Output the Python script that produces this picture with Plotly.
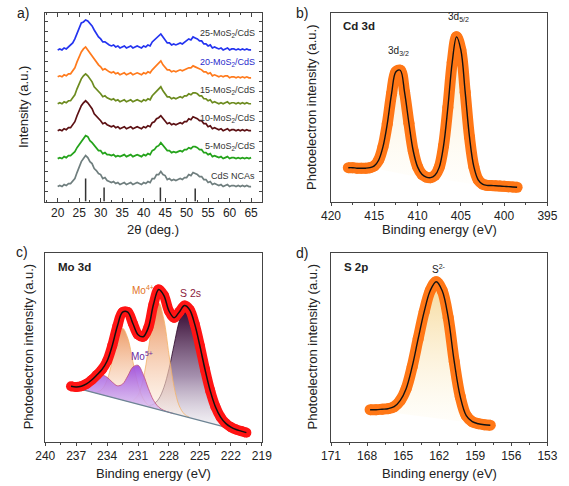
import plotly.graph_objects as go

# ---------------- panel a : XRD ----------------
TWO_THETA = [20 + 0.5 * i for i in range(91)]

XRD_CDS = [15,16,15,17,16,18,18,21,23,29,
           34,40,43,46,44,40,38,33,31,28,
           27,23,24,21,20,19,20,18,19,17,
           18,19,17,18,19,17,18,19,18,17,
           19,18,20,19,23,23,27,27,30,27,
           26,22,23,21,22,21,22,23,22,24,
           24,27,26,29,28,27,25,25,22,22,
           19,20,17,18,17,16,17,15,16,17,
           15,16,16,15,16,15,16,15,16,15,
           15]
XRD_5 = [43,44,43,45,44,46,46,48,50,54,
         57,61,64,66,65,61,59,56,53,51,
         51,48,49,47,47,46,47,45,46,45,
         46,47,45,46,47,45,46,47,46,45,
         47,46,48,47,51,52,55,56,59,56,
         54,51,51,49,50,49,50,51,50,52,
         52,54,53,55,55,54,52,52,49,49,
         47,48,45,46,45,44,45,43,44,45,
         43,44,44,43,44,43,44,43,44,43,
         44]
XRD_10 = [71,72,71,73,72,74,74,77,80,86,
          91,96,99,101,99,96,93,88,86,83,
          81,78,79,77,76,75,76,74,75,73,
          74,75,73,74,75,73,74,75,74,73,
          75,74,76,75,79,80,83,84,86,83,
          81,78,79,77,78,77,78,79,78,80,
          80,83,82,85,84,83,81,81,78,78,
          75,76,73,74,73,72,73,71,72,73,
          71,72,72,71,72,71,72,71,72,71,
          71]
XRD_15 = [98,99,98,100,99,101,101,104,107,113,
          118,123,126,128,126,123,120,115,113,110,
          108,105,106,104,103,102,103,101,102,100,
          101,102,100,101,102,100,101,102,101,100,
          102,101,103,102,106,108,111,112,115,111,
          108,105,105,103,104,103,104,105,104,106,
          106,108,107,109,109,108,106,106,103,103,
          101,102,99,100,99,98,99,98,99,100,
          98,99,99,98,99,98,99,98,99,98,
          98]
XRD_20 = [125,126,125,127,126,128,128,131,134,140,
          145,150,153,155,152,149,146,142,139,137,
          135,132,133,131,130,129,130,128,129,127,
          128,129,127,128,129,127,128,129,128,127,
          129,128,130,129,132,134,137,138,141,137,
          135,132,132,130,131,130,131,132,131,132,
          133,134,134,136,135,134,133,132,130,130,
          128,129,126,127,126,125,126,125,126,126,
          124,125,125,124,125,124,125,124,125,124,
          124]
XRD_25 = [152,153,152,154,153,155,156,159,163,169,
          175,179,180,182,181,179,176,172,168,165,
          163,160,160,158,157,156,157,155,156,154,
          155,156,154,155,156,154,155,156,155,154,
          156,155,157,156,160,162,165,166,168,165,
          162,159,159,157,158,157,158,159,158,160,
          161,163,162,165,164,163,161,161,158,158,
          156,157,154,155,154,153,154,152,153,154,
          152,153,153,152,153,152,153,152,153,152,
          152]
XRD_NAMES = ["CdS NCAs", "5-MoS<sub>2</sub>/CdS", "10-MoS<sub>2</sub>/CdS",
             "15-MoS<sub>2</sub>/CdS", "20-MoS<sub>2</sub>/CdS", "25-MoS<sub>2</sub>/CdS"]
STICK_POS = [26.5, 30.8, 43.9, 52.0]
STICK_H = [23, 14, 14, 13]

# ---------------- panel b : Cd 3d ----------------
CD_BE = [418, 417.5, 417, 416.5, 416, 415.5, 415, 414.5, 414, 413.5,
         413, 412.5, 412, 411.5, 411, 410.5, 410, 409.5, 409, 408.5,
         408, 407.5, 407, 406.5, 406, 405.5, 405, 404.5, 404, 403.5,
         403, 402.5, 402, 401.5, 401, 400.5, 400, 399.5, 399, 398.5]
CD_FIT = [33.5, 33.5, 33, 33, 33, 33.5, 35.3, 40.9, 54.1, 77,
          107, 128.5, 130, 108, 77.5, 50, 34.3, 27, 24.2, 23.6,
          25.9, 33.8, 55.1, 93.1, 137.7, 163.1, 150.2, 108.3, 63.7, 34.5,
          21.5, 17.3, 16, 15.8, 15.6, 15.3, 15, 14.7, 14.4, 14.1]
CD_BG_BE = [418, 415, 411, 406.5, 403, 398.5]
CD_BG = [33.5, 33, 26, 21, 16.3, 14]

# ---------------- panel c : Mo 3d ----------------
MO_BE = [237.5, 237, 236.5, 236, 235.5, 235, 234.5, 234, 233.5, 233,
         232.5, 232, 231.5, 231, 230.5, 230, 229.5, 229, 228.5, 228,
         227.5, 227, 226.5, 226, 225.5, 225, 224.5, 224, 223.5, 223,
         222.5, 222, 221.5, 221, 220.5]
MO_ENV = [55.4, 54.8, 55.5, 57.8, 61.7, 66.7, 72.2, 80.7, 96.1, 115.7,
          129.5, 129.6, 118.2, 107, 105, 114.1, 137.5, 152.3, 146.4, 130.7,
          124.0, 129.8, 136.1, 132.0, 117.3, 95.6, 71.8, 50.8, 35.0, 24.6,
          18.3, 14.6, 12.2, 10.6, 9.05]
MO_BASE_BE = [237.5, 220.5]
MO_BASE = [55, 9]
MO5_BE = [237.5, 237, 236.5, 236, 235.5, 235, 234.5, 234, 233.5, 233,
          232.5, 232, 231.5, 231, 230.5, 230, 229.5, 229, 228.5, 228, 227.5]
MO5_Y = [55.4, 54.8, 55.5, 57.8, 61.7, 65.4, 66.8, 64.4, 59.6, 55.9,
         57.6, 65.7, 74.7, 76.4, 67.3, 53.2, 41.4, 34.6, 31.3, 29.4, 27.9]
MO4A_BE = [235, 234.5, 234, 233.5, 233, 232.5, 232, 231.5, 231, 230.5, 230, 229.5]
MO4A_Y = [49.5, 52.3, 61.8, 80.7, 102.6, 113.4, 103.6, 80.0, 57.1, 43.0, 36.5, 33.7]
MO4B_BE = [231.5, 231, 230.5, 230, 229.5, 229, 228.5, 228, 227.5, 227, 226.5, 226]
MO4B_Y = [41.1, 46.5, 62.8, 92.4, 125.1, 139.0, 122.4, 87.0, 54.6, 35.7, 27.5, 24.3]
S2S_BE = [230, 229.5, 229, 228.5, 228, 227.5, 227, 226.5, 226, 225.5,
          225, 224.5, 224, 223.5, 223, 222.5, 222, 221.5, 221, 220.5]
S2S_Y = [36.1, 37.5, 42.7, 54.1, 72.9, 97.3, 120.7, 133.8, 131.6, 117.3,
         95.6, 71.8, 50.8, 35.0, 24.6, 18.3, 14.6, 12.2, 10.6, 9.0]

# ---------------- panel d : S 2p ----------------
S_BE = [167.75, 167.25, 166.75, 166.25, 165.75, 165.25, 164.75, 164.25, 163.75, 163.25,
        162.75, 162.25, 161.75, 161.25, 160.75, 160.25, 159.75, 159.25, 158.75, 158.25, 157.75]
S_FIT = [32, 32, 32.5, 33, 35, 41, 53, 75, 103, 130,
         151, 160, 151, 124, 80, 45, 26, 20, 18, 17, 16.5]
S_BG_BE = [167.75, 157.75]
S_BG = [32, 16.5]

W, H = 569, 486
FONT = "Liberation Sans, Arial, sans-serif"
fig = go.Figure()


def sc(**kw):
    kw.setdefault("showlegend", False)
    kw.setdefault("hoverinfo", "skip")
    fig.add_trace(go.Scatter(**kw))


# ---- a ----
XRD_COLORS = ["#6f7e7e", "#24a31b", "#5c1013", "#6c8b1f", "#ff7a1c", "#2434f0"]
for ys, col in zip([XRD_CDS, XRD_5, XRD_10, XRD_15, XRD_20, XRD_25], XRD_COLORS):
    sc(x=TWO_THETA, y=ys, mode="lines", line=dict(color=col, width=1.7), xaxis="x", yaxis="y")
sx, sy = [], []
for p, h in zip(STICK_POS, STICK_H):
    sx += [p, p, None]
    sy += [0, h, None]
sc(x=sx, y=sy, mode="lines", line=dict(color="#333", width=1.5), xaxis="x", yaxis="y")

# ---- b ----
sc(x=CD_BG_BE, y=CD_BG, mode="lines", line=dict(width=0), xaxis="x2", yaxis="y2")
sc(x=CD_BE, y=CD_FIT, mode="lines", line=dict(width=0, shape="spline"), fill="tonexty",
   fillgradient=dict(type="vertical", start=min(CD_BG), stop=max(CD_FIT),
                     colorscale=[[0, "rgba(255,252,240,0.2)"], [1, "rgba(245,212,150,0.6)"]]),
   xaxis="x2", yaxis="y2")
sc(x=CD_BE, y=CD_FIT, mode="lines+markers", line=dict(color="#ff7716", width=11, shape="spline"),
   marker=dict(color="#ff7716", size=11), xaxis="x2", yaxis="y2")
sc(x=CD_BE, y=CD_FIT, mode="lines", line=dict(color="#111", width=1.4, shape="spline"),
   xaxis="x2", yaxis="y2")

# ---- c ----
comps = [
    (S2S_BE, S2S_Y, [[0, "rgba(245,245,248,0.5)"], [0.45, "rgba(150,125,160,0.85)"], [1, "rgba(50,5,45,1)"]], "#2a0526"),
    (MO4B_BE, MO4B_Y, [[0, "rgba(255,245,235,0.5)"], [1, "rgba(233,140,82,0.95)"]], "#f4b46a"),
    (MO4A_BE, MO4A_Y, [[0, "rgba(255,245,235,0.5)"], [1, "rgba(236,150,95,0.95)"]], "#f4b46a"),
    (MO5_BE, MO5_Y, [[0, "rgba(222,200,248,0.75)"], [1, "rgba(160,80,220,0.95)"]], "#c0507a"),
]
for bx, by, cs, lc in comps:
    sc(x=MO_BASE_BE, y=MO_BASE, mode="lines", line=dict(width=0), xaxis="x3", yaxis="y3")
    sc(x=bx, y=by, mode="lines", line=dict(color=lc, width=0.8, shape="spline"), fill="tonexty",
       fillgradient=dict(type="vertical", start=min(by), stop=max(by), colorscale=cs),
       xaxis="x3", yaxis="y3")
sc(x=MO_BASE_BE, y=MO_BASE, mode="lines", line=dict(color="#6d8494", width=1.2), xaxis="x3", yaxis="y3")
sc(x=MO_BE, y=MO_ENV, mode="lines+markers", line=dict(color="#ff1414", width=10, shape="spline"),
   marker=dict(color="#ff1414", size=10), xaxis="x3", yaxis="y3")
sc(x=MO_BE, y=MO_ENV, mode="lines", line=dict(color="#111", width=1.5, shape="spline"),
   xaxis="x3", yaxis="y3")

# ---- d ----
sc(x=S_BG_BE, y=S_BG, mode="lines", line=dict(width=0), xaxis="x4", yaxis="y4")
sc(x=S_BE, y=S_FIT, mode="lines", line=dict(width=0, shape="spline"), fill="tonexty",
   fillgradient=dict(type="vertical", start=min(S_BG), stop=max(S_FIT),
                     colorscale=[[0, "rgba(255,252,240,0.3)"], [1, "rgba(244,208,130,0.8)"]]),
   xaxis="x4", yaxis="y4")
sc(x=S_BE, y=S_FIT, mode="lines+markers", line=dict(color="#ff7716", width=11, shape="spline"),
   marker=dict(color="#ff7716", size=11), xaxis="x4", yaxis="y4")
sc(x=S_BE, y=S_FIT, mode="lines", line=dict(color="#111", width=1.4, shape="spline"),
   xaxis="x4", yaxis="y4")


def px(v):
    return v / W


def py(v):
    return 1 - v / H


base_ax = dict(showline=True, linecolor="#444", linewidth=1, mirror=True, showgrid=False,
               zeroline=False, tickfont=dict(size=12, color="#222", family=FONT), tickcolor="#444")
dom_l = [px(36.5), px(261)]
dom_r = [px(332.7), px(557)]
dom_t = [py(201.5), py(13)]
dom_b = [py(441.7), py(252.5)]

lay = dict(
    xaxis=dict(base_ax, domain=dom_l, anchor="y", range=[17.1, 67.5], tick0=20, dtick=5,
               ticks="inside", ticklen=4, mirror="allticks",
               minor=dict(ticks="inside", ticklen=2, tick0=22.5, dtick=5, tickcolor="#444")),
    yaxis=dict(base_ax, domain=dom_t, anchor="x", range=[0, 189], showticklabels=False,
               ticks="inside", ticklen=3, dtick=10, mirror="allticks"),
    xaxis2=dict(base_ax, domain=dom_r, anchor="y2", range=[420, 395], tick0=395, dtick=5,
                ticks="outside", ticklen=3,
                minor=dict(ticks="outside", ticklen=2, dtick=2.5, tick0=395, tickcolor="#444")),
    yaxis2=dict(base_ax, domain=dom_t, anchor="x2", range=[0, 186.7], showticklabels=False, ticks=""),
    xaxis3=dict(base_ax, domain=dom_l, anchor="y3", range=[240, 219], tick0=219, dtick=3,
                ticks="outside", ticklen=3,
                minor=dict(ticks="outside", ticklen=2, dtick=1.5, tick0=219, tickcolor="#444")),
    yaxis3=dict(base_ax, domain=dom_b, anchor="x3", range=[0, 189.2], showticklabels=False, ticks=""),
    xaxis4=dict(base_ax, domain=dom_r, anchor="y4", range=[171, 153], tick0=153, dtick=3,
                ticks="outside", ticklen=3,
                minor=dict(ticks="outside", ticklen=2, dtick=1.5, tick0=153, tickcolor="#444")),
    yaxis4=dict(base_ax, domain=dom_b, anchor="x4", range=[0, 189.2], showticklabels=False, ticks=""),
)

ann = []


def A(text, x, y, xref="paper", yref="paper", size=12, color="#222", xanchor="center",
      yanchor="middle", angle=0, bold=False):
    if bold:
        text = "<b>" + text + "</b>"
    ann.append(dict(text=text, x=x, y=y, xref=xref, yref=yref, showarrow=False,
                    font=dict(size=size, color=color, family=FONT), xanchor=xanchor,
                    yanchor=yanchor, textangle=angle))


# panel letters
A("a)", px(13), py(13), size=14)
A("b)", px(303), py(13), size=14)
A("c)", px(12), py(252), size=14)
A("d)", px(303), py(253), size=14)
# axis titles
A("Intensity (a.u.)", px(14), py(107.5), size=13, angle=-90)
A("2θ (deg.)", px(148.5), py(230), size=13)
A("Photoelectron intensity (a.u.)", px(312.5), py(107.5), size=13, angle=-90)
A("Binding energy (eV)", px(445), py(230), size=13)
A("Photoelectron intensity (a.u.)", px(19), py(347), size=13, angle=-90)
A("Binding energy (eV)", px(149), py(473), size=13)
A("Photoelectron intensity (a.u.)", px(312.5), py(347), size=13, angle=-90)
A("Binding energy (eV)", px(445), py(473), size=13)

# panel a series labels
LABEL_Y = [26, 55, 83, 111, 139, 168]
LABEL_COL = ["#333", "#333", "#333", "#333", "#2a2acc", "#333"]
for name, ly, lc in zip(XRD_NAMES, LABEL_Y, LABEL_COL):
    A(name, 66.4, ly, xref="x", yref="y", size=9, color=lc, xanchor="right")

# panel b
A("Cd 3d", 418.8, 173.7, xref="x2", yref="y2", size=11.5, bold=True, xanchor="left")
A("3d<sub>3/2</sub>", 412.2, 149, xref="x2", yref="y2", size=10)
A("3d<sub>5/2</sub>", 405.25, 182.5, xref="x2", yref="y2", size=10)
# panel c
A("Mo 3d", 239.0, 174.7, xref="x3", yref="y3", size=11.5, bold=True, xanchor="left")
A("Mo<sup>4+</sup>", 230.5, 152, xref="x3", yref="y3", size=10, color="#e27428")
A("S 2s", 225.9, 148.5, xref="x3", yref="y3", size=10.5, color="#8c1a3c")
A("Mo<sup>5+</sup>", 230.6, 86, xref="x3", yref="y3", size=10, color="#6a2aa0")
# panel d
A("S 2p", 170.1, 175, xref="x4", yref="y4", size=11.5, bold=True, xanchor="left")
A("S<sup>2-</sup>", 162.05, 173, xref="x4", yref="y4", size=10)

fig.update_layout(width=W, height=H, margin=dict(l=0, r=0, t=0, b=0),
                  paper_bgcolor="white", plot_bgcolor="white",
                  font=dict(family=FONT, color="#222"), annotations=ann, **lay)
fig.write_html("out.html", config={"displayModeBar": False},
               post_script="document.body.style.margin='0';document.body.style.padding='0';"
                           "document.body.style.overflow='hidden';")
